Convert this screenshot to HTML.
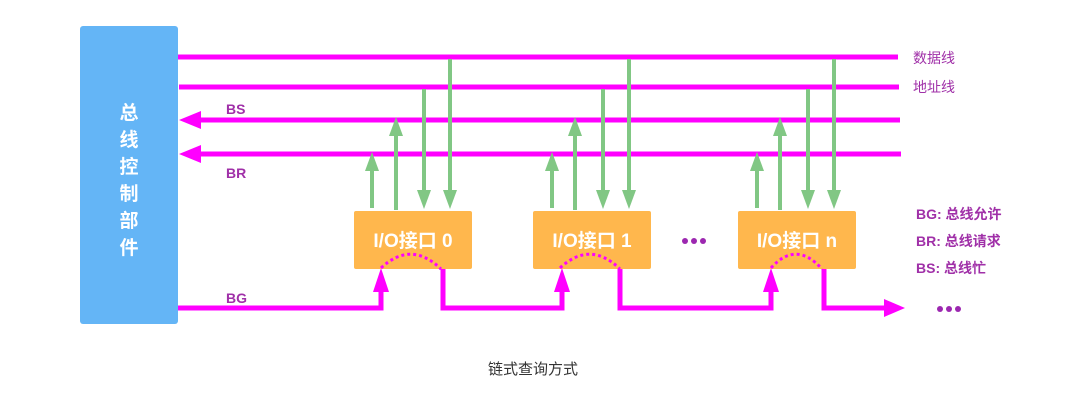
<!DOCTYPE html>
<html><head><meta charset="utf-8"><style>
html,body{margin:0;padding:0;background:#fff;}
svg{display:block;}
text{font-family:"Liberation Sans","Noto Sans CJK SC",sans-serif;}
</style></head><body>
<svg width="1069" height="402" viewBox="0 0 1069 402" xmlns="http://www.w3.org/2000/svg">
<defs>
<marker id="g" markerWidth="4" markerHeight="4" refX="2" refY="2" orient="auto"></marker>
</defs>
<rect x="80" y="26" width="98" height="298" rx="3" fill="#64b5f6"/>
<g fill="#fff" font-size="19" font-weight="bold" text-anchor="middle">
<text x="129" y="119">总</text><text x="129" y="146">线</text><text x="129" y="173">控</text><text x="129" y="200">制</text><text x="129" y="227">部</text><text x="129" y="254">件</text>
</g>
<g stroke="#ff00ff" stroke-width="5" fill="none">
<line x1="178" y1="57" x2="898" y2="57"/>
<line x1="179" y1="87" x2="899" y2="87"/>
<line x1="195" y1="120" x2="900" y2="120"/>
<line x1="195" y1="154" x2="901" y2="154"/>
<polyline points="178,308 381,308 381,288"/>
<polyline points="443,268 443,308 562,308 562,288"/>
<polyline points="620,268 620,308 771,308 771,288"/>
<polyline points="824,268 824,308 888,308"/>
</g>
<g fill="#ff00ff">
<polygon points="179,120 201,111 201,129"/>
<polygon points="179,154 201,145 201,163"/>
<polygon points="381,268 373,292 389,292"/>
<polygon points="562,268 554,292 570,292"/>
<polygon points="771,268 763,292 779,292"/>
<polygon points="905,308 884,299 884,317"/>
</g>
<g fill="#a030a8" font-weight="bold" font-size="14">
<text x="226" y="114">BS</text><text x="226" y="178">BR</text><text x="226" y="303">BG</text>
</g>
<g fill="#ffb74d">
<rect x="354" y="211" width="118" height="58" rx="2"/>
<rect x="533" y="211" width="118" height="58" rx="2"/>
<rect x="738" y="211" width="118" height="58" rx="2"/>
</g>
<g fill="#fff" font-size="19" font-weight="bold" text-anchor="middle">
<text x="413" y="247">I/O接口 0</text><text x="592" y="247">I/O接口 1</text><text x="797" y="247">I/O接口 n</text>
</g>
<g stroke="#ff00ff" stroke-width="3" fill="none" stroke-dasharray="3,3">
<path d="M381,268 Q411,240 441,269"/>
<path d="M560,268 Q590,240 620,269"/>
<path d="M771,268 Q796,240 822,269"/>
</g>
<g stroke="#81c784" stroke-width="4">
<line x1="372" y1="208" x2="372" y2="170"/><line x1="396" y1="210" x2="396" y2="135"/>
<line x1="424" y1="89" x2="424" y2="190"/><line x1="450" y1="59" x2="450" y2="190"/>
<line x1="552" y1="208" x2="552" y2="170"/><line x1="575" y1="210" x2="575" y2="135"/>
<line x1="603" y1="89" x2="603" y2="190"/><line x1="629" y1="59" x2="629" y2="190"/>
<line x1="757" y1="208" x2="757" y2="170"/><line x1="780" y1="210" x2="780" y2="135"/>
<line x1="808" y1="89" x2="808" y2="190"/><line x1="834" y1="59" x2="834" y2="190"/>
</g>
<g fill="#81c784">
<polygon points="372,152 365,171 379,171"/><polygon points="396,117 389,136 403,136"/>
<polygon points="424,209 417,190 431,190"/><polygon points="450,209 443,190 457,190"/>
<polygon points="552,152 545,171 559,171"/><polygon points="575,117 568,136 582,136"/>
<polygon points="603,209 596,190 610,190"/><polygon points="629,209 622,190 636,190"/>
<polygon points="757,152 750,171 764,171"/><polygon points="780,117 773,136 787,136"/>
<polygon points="808,209 801,190 815,190"/><polygon points="834,209 827,190 841,190"/>
</g>
<g fill="#9c27b0">
<circle cx="685" cy="241" r="3"/><circle cx="694" cy="241" r="3"/><circle cx="703" cy="241" r="3"/>
<circle cx="940" cy="309" r="3"/><circle cx="949" cy="309" r="3"/><circle cx="958" cy="309" r="3"/>
</g>
<g fill="#a030a8" font-size="14">
<text x="913" y="63">数据线</text><text x="913" y="92">地址线</text>
</g>
<g fill="#a030a8" font-size="14" font-weight="bold">
<text x="916" y="219">BG: 总线允许</text><text x="916" y="246">BR: 总线请求</text><text x="916" y="273">BS: 总线忙</text>
</g>
<text x="533" y="374" text-anchor="middle" font-size="15" fill="#333">链式查询方式</text>
</svg>
</body></html>
